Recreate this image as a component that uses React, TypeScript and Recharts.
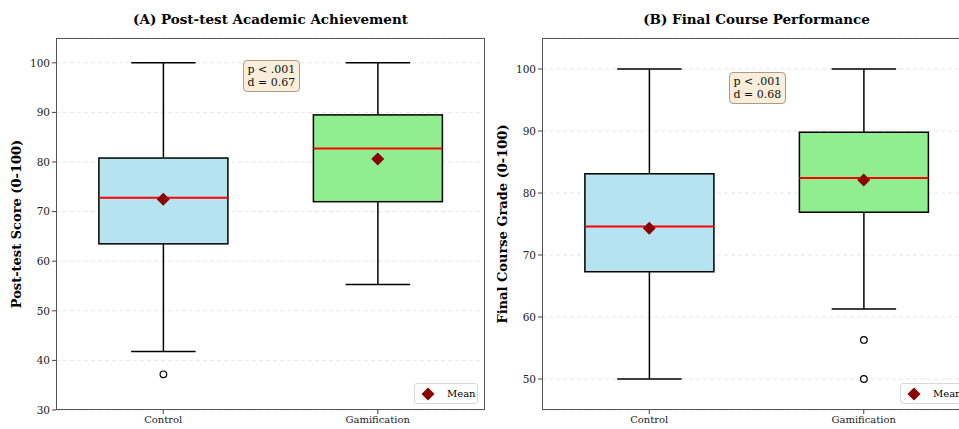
import React from 'react';
import { ComposedChart, Bar, Scatter, XAxis, YAxis, CartesianGrid } from 'recharts';

const groups = ['Control', 'Gamification'];

// (A) Post-test academic achievement
const achLow = [41.8, 55.3];
const achQ1 = [63.5, 72.0];
const achMedian = [72.8, 82.7];
const achQ3 = [80.8, 89.5];
const achHigh = [100, 100];
const achMean = [72.5, 80.6];
const achOutliers = [[37.2], []];
const achTicks = [30, 40, 50, 60, 70, 80, 90, 100];

// (B) Final course performance
const gradeLow = [50, 61.3];
const gradeQ1 = [67.3, 76.9];
const gradeMedian = [74.6, 82.4];
const gradeQ3 = [83.1, 89.8];
const gradeHigh = [100, 100];
const gradeMean = [74.3, 82.1];
const gradeOutliers = [[], [56.3, 50]];
const gradeTicks = [50, 60, 70, 80, 90, 100];

const boxColors = ['#b5e3ef', '#90ee90'];
const FONT = '"DejaVu Serif", serif';

type Row = {
  name: string;
  range: [number, number];
  q1: number;
  median: number;
  q3: number;
  mean: number;
  outliers: number[];
  color: string;
};

const buildRows = (
  low: number[], q1: number[], med: number[], q3: number[], high: number[], mean: number[], out: number[][]
): Row[] =>
  groups.map((name, i) => ({
    name,
    range: [low[i], high[i]],
    q1: q1[i],
    median: med[i],
    q3: q3[i],
    mean: mean[i],
    outliers: out[i],
    color: boxColors[i],
  }));

const achRows = buildRows(achLow, achQ1, achMedian, achQ3, achHigh, achMean, achOutliers);
const gradeRows = buildRows(gradeLow, gradeQ1, gradeMedian, gradeQ3, gradeHigh, gradeMean, gradeOutliers);

const BoxShape = (props: any) => {
  const { x, y, width, height, payload } = props;
  const [lo, hi] = payload.range;
  const py = (v: number) => y + (height * (hi - v)) / (hi - lo);
  const cx = x + width / 2;
  const cap = width / 4;
  return (
    <g>
      <line x1={cx} x2={cx} y1={py(hi)} y2={py(payload.q3)} stroke="#000" strokeWidth={1.5} />
      <line x1={cx} x2={cx} y1={py(payload.q1)} y2={py(lo)} stroke="#000" strokeWidth={1.5} />
      <line x1={cx - cap} x2={cx + cap} y1={py(hi)} y2={py(hi)} stroke="#000" strokeWidth={1.5} />
      <line x1={cx - cap} x2={cx + cap} y1={py(lo)} y2={py(lo)} stroke="#000" strokeWidth={1.5} />
      <rect
        x={x}
        y={py(payload.q3)}
        width={width}
        height={py(payload.q1) - py(payload.q3)}
        fill={payload.color}
        stroke="#000"
        strokeWidth={1.5}
      />
      <line x1={x} x2={x + width} y1={py(payload.median)} y2={py(payload.median)} stroke="#ff0000" strokeWidth={2} />
      {payload.outliers.map((v: number, i: number) => (
        <circle key={i} cx={cx} cy={py(v)} r={3.3} fill="#fff" stroke="#000" strokeWidth={1.2} />
      ))}
    </g>
  );
};

const Diamond = (props: any) => {
  const { cx, cy } = props;
  const s = 6.5;
  return <path d={`M${cx},${cy - s}L${cx + s},${cy}L${cx},${cy + s}L${cx - s},${cy}Z`} fill="#8b0000" />;
};

type PanelProps = {
  left: number;
  rows: Row[];
  domain: [number, number];
  ticks: number[];
  title: string;
  yLabel: string;
  stats: string[];
  statsTop: number;
};

const PLOT_W = 429;
const PLOT_LEFT = 56;

const Panel = ({ left, rows, domain, ticks, title, yLabel, stats, statsTop }: PanelProps) => {
  const plotLeft = left + PLOT_LEFT;
  return (
    <>
      <div style={{ position: 'absolute', left, top: 0 }}>
        <ComposedChart
          width={PLOT_LEFT + PLOT_W + 10}
          height={429}
          data={rows}
          margin={{ top: 38, right: 10, bottom: 0, left: 16 }}
          barCategoryGap="20%"
        >
          <CartesianGrid vertical={false} stroke="#e6e6e6" strokeDasharray="4 3" />
          <XAxis
            dataKey="name"
            height={19}
            tickLine={{ stroke: '#444' }}
            tickSize={4}
            axisLine={false}
            tick={{ fill: '#222', fontSize: 10, fontFamily: FONT }}
          />
          <YAxis
            width={40}
            domain={domain}
            ticks={ticks}
            type="number"
            allowDataOverflow
            tickLine={{ stroke: '#444' }}
            tickSize={4}
            axisLine={false}
            tick={{ fill: '#222', fontSize: 10.5, fontFamily: FONT }}
          />
          <Bar dataKey="range" shape={<BoxShape />} isAnimationActive={false} />
          <Scatter dataKey="mean" shape={<Diamond />} isAnimationActive={false} />
        </ComposedChart>
      </div>
      <div
        style={{
          position: 'absolute',
          left: plotLeft,
          top: 38,
          width: PLOT_W - 2,
          height: 370,
          border: '1.2px solid #555',
          pointerEvents: 'none',
        }}
      />
      <div
        style={{
          position: 'absolute',
          left: plotLeft,
          width: PLOT_W,
          top: 11,
          textAlign: 'center',
          fontFamily: FONT,
          fontWeight: 'bold',
          fontSize: 13.5,
          color: '#000',
        }}
      >
        {title}
      </div>
      <div
        style={{
          position: 'absolute',
          left: left + 17 - 150,
          top: 224 - 9,
          width: 300,
          textAlign: 'center',
          transform: 'rotate(-90deg)',
          fontFamily: FONT,
          fontWeight: 'bold',
          fontSize: 13,
          lineHeight: '18px',
        }}
      >
        {yLabel}
      </div>
      <div
        style={{
          position: 'absolute',
          left: plotLeft + PLOT_W / 2 - 28,
          top: statsTop,
          padding: '2px 4px',
          background: '#faeedb',
          border: '1px solid #a89c88',
          borderRadius: 4,
          fontFamily: FONT,
          fontSize: 11,
          lineHeight: '13px',
          color: '#111',
        }}
      >
        {stats.map((s) => (
          <div key={s}>{s}</div>
        ))}
      </div>
      <div
        style={{
          position: 'absolute',
          left: plotLeft + PLOT_W - 71,
          top: 383,
          width: 64,
          height: 21,
          background: '#fff',
          border: '1px solid #d8d8d8',
          borderRadius: 3,
          fontFamily: FONT,
          fontSize: 10,
          display: 'flex',
          alignItems: 'center',
          boxSizing: 'border-box',
        }}
      >
        <svg width={26} height={20}>
          <path d="M13,3.5L19.5,10L13,16.5L6.5,10Z" fill="#8b0000" />
        </svg>
        <span style={{ marginLeft: 6 }}>Mean</span>
      </div>
    </>
  );
};

export default function App() {
  return (
    <div
      style={{
        position: 'fixed',
        left: 0,
        top: 0,
        width: 959,
        height: 429,
        overflow: 'hidden',
        background: '#fff',
      }}
    >
      <Panel
        left={0}
        rows={achRows}
        domain={[30, 105]}
        ticks={achTicks}
        title="(A) Post-test Academic Achievement"
        yLabel="Post-test Score (0-100)"
        stats={['p < .001', 'd = 0.67']}
        statsTop={60}
      />
      <Panel
        left={486}
        rows={gradeRows}
        domain={[45, 105]}
        ticks={gradeTicks}
        title="(B) Final Course Performance"
        yLabel="Final Course Grade (0-100)"
        stats={['p < .001', 'd = 0.68']}
        statsTop={72}
      />
    </div>
  );
}
